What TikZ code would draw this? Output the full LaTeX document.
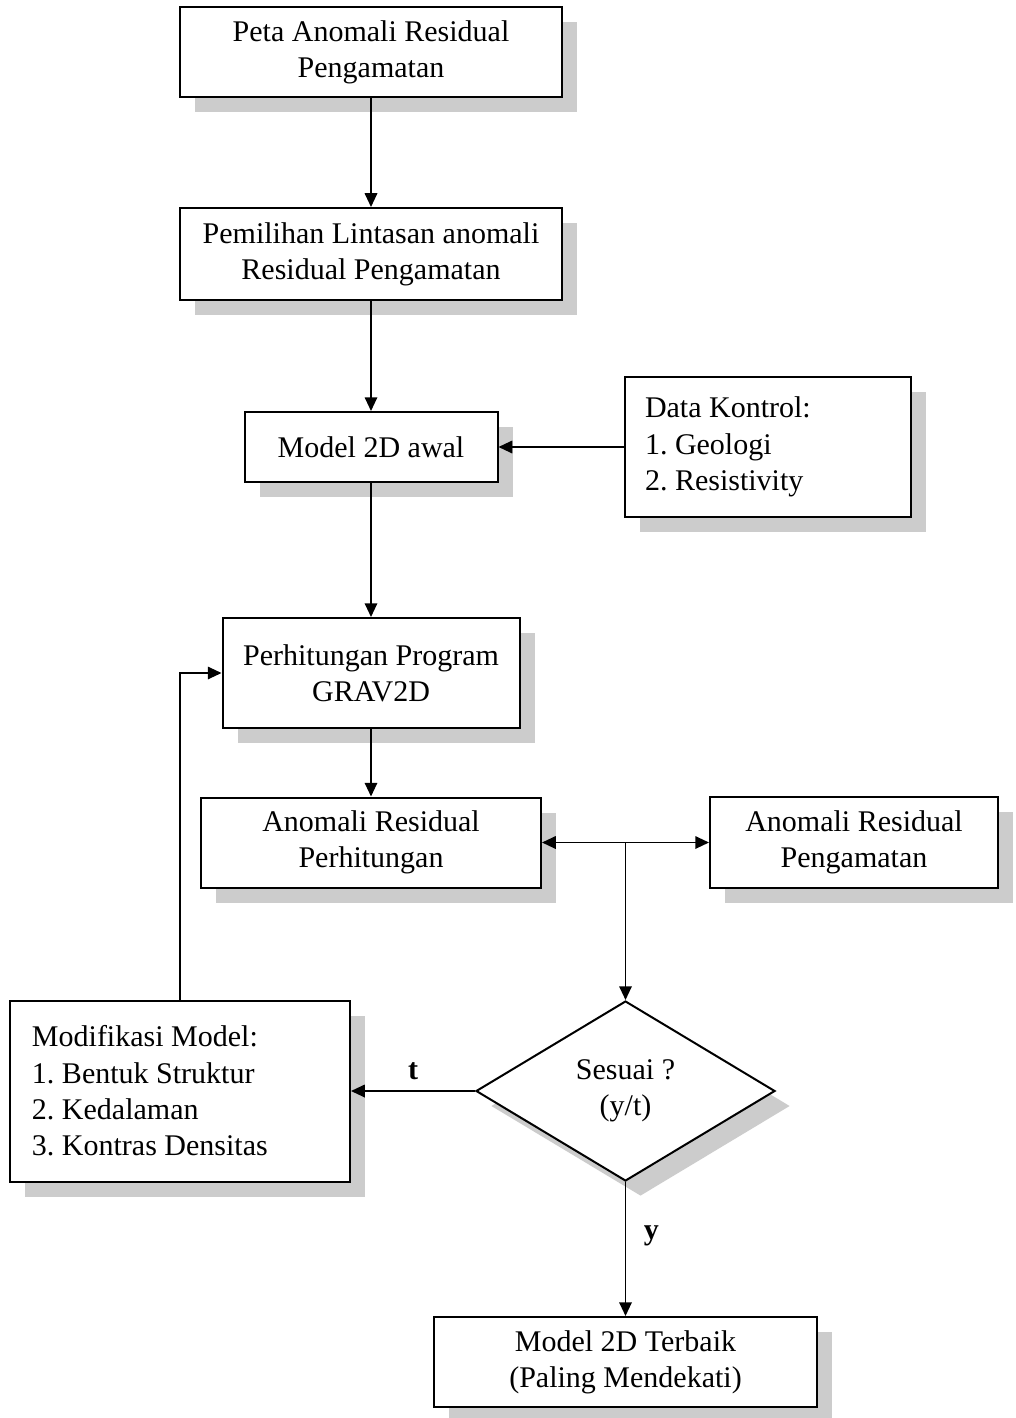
\documentclass[tikz,border=0pt,12pt]{standalone}
\usepackage{fontspec}
\setmainfont{Liberation Serif}
\usetikzlibrary{arrows.meta,positioning,shapes.geometric,shadows}
\frenchspacing

\begin{document}
\begin{tikzpicture}[x=0.4pt,y=-0.4pt,>={Triangle[length=5.5pt,width=5pt]},line width=0.7pt]
\tikzstyle{box}=[rectangle,draw=black,line width=0.8pt,fill=white,align=center,inner sep=0pt,drop shadow={shadow xshift=6pt,shadow yshift=-6pt,fill=gray!40,opacity=1}]
\tikzstyle{listbox}=[align=flush left,inner xsep=8pt]
\tikzstyle{decision}=[diamond,aspect=1.66,draw=black,line width=0.8pt,fill=white,align=center,inner sep=0pt,minimum width=119.6pt,minimum height=72pt,drop shadow={shadow xshift=6pt,shadow yshift=-6pt,fill=gray!40,opacity=1}]
\path[use as bounding box,fill=white] (0,0) rectangle (1015,1418);
\node[box,minimum width=152.8pt,minimum height=36pt] (p) at (371,52) {Peta Anomali Residual\\Pengamatan};
\node[box,minimum width=152.8pt,minimum height=36.8pt] (l) at (371,254) {Pemilihan Lintasan anomali\\Residual Pengamatan};
\node[box,minimum width=101.2pt,minimum height=28pt] (m) at (371,447) {Model 2D awal};
\node[box,listbox,text width=98.4pt,minimum height=56pt] (k) at (768,447) {Data Kontrol:\\1. Geologi\\2. Resistivity};
\node[box,minimum width=118.8pt,minimum height=44pt] (g) at (371,673) {Perhitungan Program\\GRAV2D};
\node[box,minimum width=136pt,minimum height=36pt] (ah) at (371,842.5) {Anomali Residual\\Perhitungan};
\node[box,minimum width=115.2pt,minimum height=36.4pt] (ao) at (854,842.5) {Anomali Residual\\Pengamatan};
\node[decision] (s) at (625.5,1091) {Sesuai ?\\(y/t)};
\node[box,listbox,inner xsep=8.8pt,text width=118.4pt,minimum height=72.4pt] (mm) at (180,1091) {Modifikasi Model:\\1. Bentuk Struktur\\2. Kedalaman\\3. Kontras Densitas};
\node[box,minimum width=153.2pt,minimum height=36pt] (f) at (625.5,1362) {Model 2D Terbaik\\(Paling Mendekati)};
\coordinate (c) at (ah.east -| s.north);
\draw[->] (p)--(l);\draw[->] (l)--(m);\draw[->] (k)--(m);\draw[->] (m)--(g);\draw[->] (g)--(ah);
\draw[<->] (ah)--(ao);\draw[->] (c)--(s);
\draw[->] (s)--(mm) node[midway,above,font=\bfseries] {t};
\draw[->] (s)--(f) node[pos=0.4,right,xshift=3pt,font=\bfseries] {y};
\draw[->] (mm.north) |- (g.west);
\end{tikzpicture}
\end{document}
